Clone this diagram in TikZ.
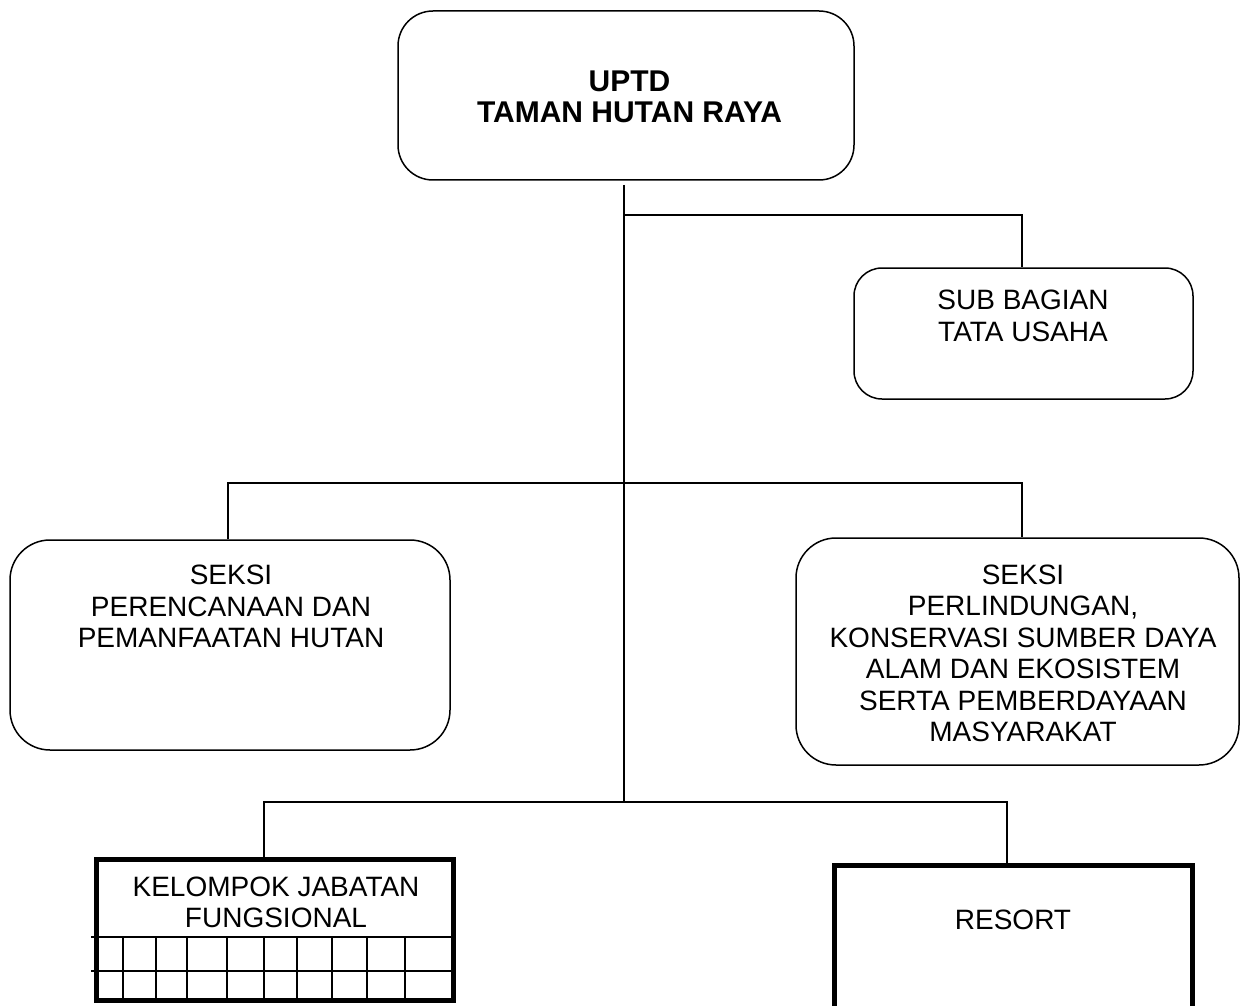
\documentclass[tikz,border=0pt]{standalone}
\usepackage{fontspec}
\setmainfont{Liberation Sans}
\usetikzlibrary{positioning}
\tikzset{
  rbox/.style={draw, line width=1.5pt, inner sep=0pt},
  hbox/.style={draw, line width=5pt, inner sep=0pt},
  link/.style={line width=1.5pt},
  lbl/.style={align=center, inner sep=0pt, font=\fontsize{28}{31.5}\selectfont},
}
\begin{document}
\begin{tikzpicture}[x=1pt,y=-1pt]
\useasboundingbox (0,0) rectangle (1240,1006);

% kepala
\node[rbox, rounded corners=35pt, minimum width=456pt, minimum height=169pt] (uptd) at (626,95.5) {};
\node[lbl, font=\bfseries\fontsize{30}{31.5}\selectfont] (uptdTxt) at (629.5,96.75) {UPTD\\TAMAN HUTAN RAYA};

% sub bagian
\node[rbox, rounded corners=28pt, minimum width=339pt, minimum height=131pt] (subbag) at (1023.5,333.5) {};
\node[lbl] (subbagTxt) at (1023,316) {SUB BAGIAN\\TATA USAHA};

% seksi
\node[rbox, rounded corners=40pt, minimum width=440pt, minimum height=210pt] (seksiA) at (230,645) {};
\node[lbl] (seksiATxt) at (231,606.5) {SEKSI\\PERENCANAAN DAN\\PEMANFAATAN HUTAN};
\node[rbox, rounded corners=40pt, minimum width=443pt, minimum height=227pt] (seksiB) at (1017.5,651.5) {};
\node[lbl] (seksiBTxt) at (1023,653.5) {SEKSI\\PERLINDUNGAN,\\KONSERVASI SUMBER DAYA\\ALAM DAN EKOSISTEM\\SERTA PEMBERDAYAAN\\MASYARAKAT};

% kelompok jabatan fungsional
\node[hbox, minimum width=357pt, minimum height=141pt] (jafung) at (275,930) {};
\node[lbl] (jafungTxt) at (276,902.5) {KELOMPOK JABATAN\\FUNGSIONAL};
\foreach \y in {937,971}
  \draw[link] (91,\y) -- (jafung.east |- 0,\y);
\foreach \x in {123,156,187,227,264,297,332,367,405}
  \draw[link] (\x,937) -- (jafung.south -| \x,0);

% resort
\node[hbox, minimum width=358pt, minimum height=154.5pt] (resort) at (1013.5,942.75) {};
\node[lbl] (resortTxt) at (1013,920) {RESORT};

% garis
\coordinate (trunkTop) at (624,185);
\coordinate (jSub) at (624,215);
\coordinate (jSeksi) at (624,483);
\coordinate (jBot) at (624,802);
\draw[link] (trunkTop) -- (jBot);
\draw[link] (jSub) -| ([xshift=-1.5pt]subbag.north);
\draw[link] ([xshift=-2pt]seksiA.north) |- (jSeksi) -| ([xshift=4.5pt]seksiB.north);
\draw[link] ([xshift=-11pt]jafung.north) |- (jBot) -| ([xshift=-6.5pt]resort.north);
\end{tikzpicture}
\end{document}
